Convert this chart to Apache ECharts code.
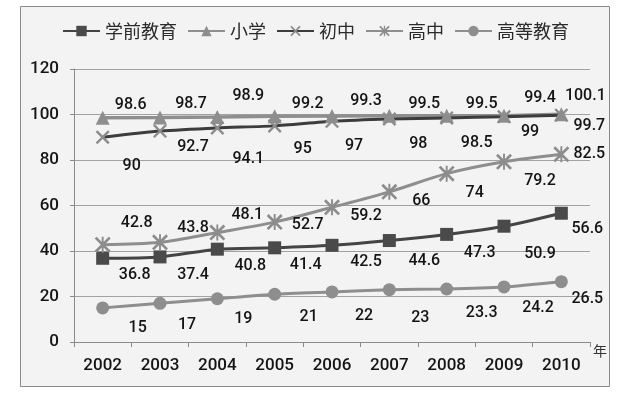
<!DOCTYPE html>
<html>
<head>
<meta charset="utf-8">
<script src="https://cdn.jsdelivr.net/npm/echarts@6/dist/echarts.min.js"></script>
<style>
html,body{margin:0;padding:0;background:#fff;}
#chart{width:630px;height:399px;}
</style>
</head>
<body>
<div id="chart"></div>
<script>
// ---- data ----
const years = ['2002','2003','2004','2005','2006','2007','2008','2009','2010'];
const preschool = [36.8, 37.4, 40.8, 41.4, 42.5, 44.6, 47.3, 50.9, 56.6];
const primary = [98.6, 98.7, 98.9, 99.2, 99.3, 99.5, 99.5, 99.4, 100.1];
const juniorHigh = [90, 92.7, 94.1, 95, 97, 98, 98.5, 99, 99.7];
const seniorHigh = [42.8, 43.8, 48.1, 52.7, 59.2, 66, 74, 79.2, 82.5];
const higherEd = [15, 17, 19, 21, 22, 23, 23.3, 24.2, 26.5];
const seriesNames = ['学前教育', '小学', '初中', '高中', '高等教育'];
const yTicks = {min: 0, max: 120, interval: 20};

// ---- label placement (styling only) ----
const preschoolShift = [[32,17],[33,18],[33,17],[31,17],[34,17],[35,20],[33,19],[36,28],[26,16]];
const primaryShift = [[28,-13],[31,-13],[31,-21],[33,-12],[34,-15],[35,-12],[35,-12],[36,-18],[24,-18]];
const juniorShift = [[29,29],[33,16],[31,31],[28,23],[22,25],[29,25],[30,25],[26,15],[28,11]];
const seniorShift = [[34,-22],[33,-14],[30,-18],[33,3],[34,9],[32,9],[28,19],[36,19],[28,0]];
const higherShift = [[35,20],[27,22],[26,20],[34,23],[32,24],[31,28],[35,24],[34,21],[26,17]];

const numFont = 'Roboto';
const cjkFont = 'Noto Sans CJK SC';

const xPath = 'path://M0,1.2 L1.2,0 L10,8.8 L8.8,10 Z M8.8,0 L10,1.2 L1.2,10 L0,8.8 Z';
const starPath = 'path://M0,1.2 L1.2,0 L10,8.8 L8.8,10 Z M8.8,0 L10,1.2 L1.2,10 L0,8.8 Z M4.4,0 L5.6,0 L5.6,10 L4.4,10 Z';

function mkData(vals, shifts){
  return vals.map((v,i)=>({value:v, label:{offset:shifts[i]}}));
}
function mkSeries(name, vals, shifts, opts){
  return Object.assign({
    name: name,
    type: 'line',
    data: mkData(vals, shifts),
    showSymbol: true,
    label: {show:true, position:'inside', fontSize:16, fontWeight:500, color:'#141414', fontFamily:numFont},
    emphasis: {disabled:true}
  }, opts);
}

const chart = echarts.init(document.getElementById('chart'), null, {renderer:'canvas'});
chart.setOption({
  animation: false,
  backgroundColor: '#ffffff',
  graphic: {elements: [{
    type: 'rect', z: -100, silent: true,
    shape: {x: 20.5, y: 6.5, width: 589, height: 380},
    style: {fill: '#f3f3f3', stroke: '#8a8a8a', lineWidth: 1}
  }]},
  legend: {
    left: 57, top: 17,
    itemWidth: 37, itemHeight: 13, itemGap: 10,
    textStyle: {fontSize: 18, color: '#2a2a2a', fontFamily: cjkFont},
    data: seriesNames
  },
  grid: {left: 74, right: 40, top: 69, bottom: 57, containLabel: false},
  xAxis: {
    type: 'category',
    data: years,
    boundaryGap: true,
    name: '年',
    nameLocation: 'end',
    nameGap: 3,
    nameTextStyle: {fontSize: 14, color: '#333', fontFamily: cjkFont, verticalAlign: 'top', padding:[2,0,0,0]},
    axisLine: {lineStyle: {color: '#8a8a8a', width: 1}},
    axisTick: {show: true, length: 5, lineStyle: {color: '#8a8a8a'}},
    axisLabel: {fontSize: 17, fontWeight: 500, color: '#141414', fontFamily: numFont, margin: 15}
  },
  yAxis: {
    type: 'value',
    min: yTicks.min, max: yTicks.max, interval: yTicks.interval,
    axisLine: {show: true, lineStyle: {color: '#8a8a8a', width: 1}},
    axisTick: {show: true, length: 4, lineStyle: {color: '#8a8a8a'}},
    splitLine: {lineStyle: {color: '#a2a2a2', width: 1}},
    axisLabel: {fontSize: 17, fontWeight: 500, color: '#141414', fontFamily: numFont, margin: 15}
  },
  series: [
    mkSeries(seriesNames[0], preschool, preschoolShift, {
      symbol: 'rect', symbolSize: 13, smooth: 0.25,
      itemStyle: {color: '#4a4a4a'}, lineStyle: {color: '#444444', width: 3}
    }),
    mkSeries(seriesNames[1], primary, primaryShift, {
      symbol: 'triangle', symbolSize: 14,
      itemStyle: {color: '#8e8e8e'}, lineStyle: {color: '#8e8e8e', width: 3.5}
    }),
    mkSeries(seriesNames[2], juniorHigh, juniorShift, {
      symbol: xPath, symbolSize: 14, smooth: 0.2,
      itemStyle: {color: '#8c8c8c'}, lineStyle: {color: '#3c3c3c', width: 3}
    }),
    mkSeries(seriesNames[3], seniorHigh, seniorShift, {
      symbol: starPath, symbolSize: 16, smooth: 0.3,
      itemStyle: {color: '#8c8c8c'}, lineStyle: {color: '#8e8e8e', width: 3}
    }),
    mkSeries(seriesNames[4], higherEd, higherShift, {
      symbol: 'circle', symbolSize: 13, smooth: 0.2,
      itemStyle: {color: '#8e8e8e'}, lineStyle: {color: '#8e8e8e', width: 3}
    })
  ]
});
</script>
</body>
</html>
